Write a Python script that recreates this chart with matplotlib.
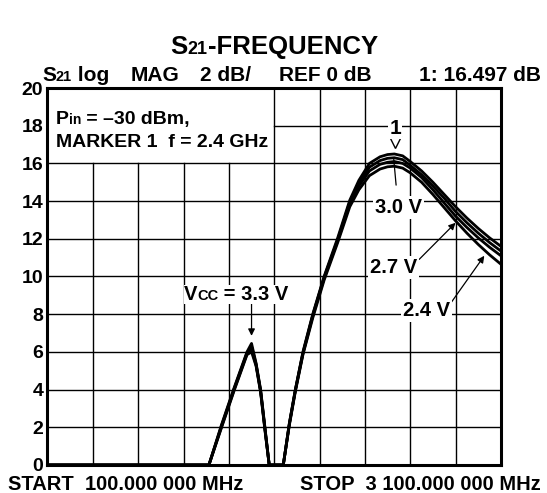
import matplotlib
matplotlib.use("Agg")
import matplotlib.pyplot as plt

plt.rcParams['font.family'] = ['Liberation Sans', 'DejaVu Sans']

# sweep, MHz (100 MHz start, 3100 MHz stop, 300 MHz/div)
f_start = 100
f_stop = 3100
freq = [100, 1168, 1250, 1335, 1420, 1450, 1480, 1510, 1540, 1567, 1660, 1700,
        1740, 1790, 1855, 1930, 2020, 2100, 2160, 2230, 2300, 2350, 2395, 2450,
        2500, 2575, 2650, 2725, 2800, 2875, 2950, 3025, 3100]

# S21 (dB) for each supply voltage
s21_33 = [0, 0, 2.1, 4.1, 6.0, 6.45, 5.4, 4.0, 1.9, 0, 0, 2.2,
          4.0, 6.0, 8.0, 10.0, 12.05, 14.05, 15.1, 16.0, 16.35, 16.47, 16.5, 16.4,
          16.1, 15.6, 15.0, 14.35, 13.7, 13.1, 12.55, 12.05, 11.6]
s21_30 = [0, 0, 2.05, 4.05, 5.95, 6.3, 5.35, 3.95, 1.85, 0, 0, 2.2,
          4.0, 5.95, 7.95, 9.95, 11.95, 13.95, 14.95, 15.8, 16.15, 16.27, 16.3, 16.2,
          15.9, 15.4, 14.8, 14.15, 13.45, 12.85, 12.3, 11.8, 11.35]
s21_27 = [0, 0, 2.0, 4.0, 5.9, 6.15, 5.3, 3.9, 1.8, 0, 0, 2.15,
          3.95, 5.9, 7.9, 9.9, 11.9, 13.85, 14.8, 15.6, 15.95, 16.06, 16.1, 16.0,
          15.75, 15.25, 14.6, 13.9, 13.2, 12.6, 12.05, 11.55, 11.1]
s21_24 = [0, 0, 1.95, 3.95, 5.85, 6.0, 5.25, 3.85, 1.75, 0, 0, 2.1,
          3.9, 5.85, 7.8, 9.8, 11.8, 13.7, 14.6, 15.35, 15.7, 15.82, 15.85, 15.75,
          15.5, 15.0, 14.35, 13.65, 12.95, 12.3, 11.7, 11.15, 10.65]

yticks = list(range(0, 21, 2))
marker_f = 2400
marker_db = 16.497

W, H = 547, 493
fig = plt.figure(figsize=(W / 100, H / 100), dpi=100)
ax = fig.add_axes([0.0868, 0.0568, 0.829, 0.7647])
ax.set_xlim(f_start, f_stop)
ax.set_ylim(0, 20)
ax.set_xticks([])
ax.set_yticks(yticks)
ax.set_yticklabels([str(v) for v in yticks], fontsize=14, fontweight='bold')
ax.tick_params(axis='y', length=0, pad=3)
for s in ax.spines.values():
    s.set_linewidth(2.2)

# graticule, left upper corner is kept clear for the settings box
div = (f_stop - f_start) / 10
for i in range(1, 10):
    x = f_start + i * div
    ax.plot([x, x], [0, 16 if i < 5 else 20], color='black', lw=1.0, zorder=1)
for y in range(2, 20, 2):
    x0 = f_start + 5 * div if y > 16 else f_start
    ax.plot([x0, f_stop], [y, y], color='black', lw=1.0, zorder=1)

for s21 in [s21_33, s21_30, s21_27, s21_24]:
    ax.plot(freq, s21, color='black', lw=2.0, solid_joinstyle='round', zorder=3,
            clip_on=False)

# marker 1
ax.plot([marker_f], [marker_db + 0.65], marker='v', ms=8, mfc='white',
        mec='black', mew=1.0, zorder=4)
ax.text(marker_f, 17.85, '1', ha='center', va='center', fontsize=15,
        fontweight='bold', bbox=dict(fc='white', ec='none', pad=1), zorder=5)

lab = dict(fontsize=14.5, fontweight='bold', ha='center', va='center', zorder=5,
           bbox=dict(fc='white', ec='none', pad=1.5))
arr = dict(arrowstyle='-|>', color='black', lw=0.9, mutation_scale=10,
           shrinkA=0, shrinkB=0)

ax.annotate('3.0 V', xy=(2390, 16.3), xytext=(2420, 13.65), arrowprops=dict(
    arrowstyle='-', color='black', lw=0.9, shrinkA=8, shrinkB=0), **lab)
ax.annotate('2.7 V', xy=(2800, 12.85), xytext=(2390, 10.5),
            arrowprops=dict(arr, relpos=(1.0, 0.8)), **lab)
ax.annotate('2.4 V', xy=(2990, 11.1), xytext=(2605, 8.2),
            arrowprops=dict(arr, relpos=(1.0, 0.8)), **lab)
ax.annotate('', xy=(1450, 6.85), xytext=(1450, 8.55), arrowprops=arr, zorder=4)

fig.canvas.draw()
rend = fig.canvas.get_renderer()


def chain(parts, x, y, ha='left', **kw):
    # write text pieces of different sizes one after another, pixel coords
    objs = []
    cx = x
    for txt, size in parts:
        t = fig.text(cx / W, 1 - y / H, txt, fontsize=size, fontweight='bold',
                     va='baseline', ha='left', **kw)
        cx += t.get_window_extent(renderer=rend).width
        objs.append(t)
    if ha == 'center':
        shift = (cx - x) / 2
        for t in objs:
            px, py = t.get_position()
            t.set_position((px - shift / W, py))
    return objs


def put(txt, x, y, size, ha='left'):
    return fig.text(x / W, 1 - y / H, txt, fontsize=size, fontweight='bold',
                    va='baseline', ha=ha)


# title
chain([('S', 18.5), ('21', 13), ('-FREQUENCY', 18.5)], 274, 54, ha='center')

# analyzer header
chain([('S', 15), ('21', 10.5), (' log', 15)], 42, 81)
put('MAG', 131, 81, 15)
put('2 dB/', 200, 81, 15)
put('REF 0 dB', 279, 81, 15)
put('1: 16.497 dB', 541, 81, 15, ha='right')

# settings box
chain([('P', 14), ('in', 10), (' = \u201330 dBm,', 14)], 56, 124)
put('MARKER 1  f = 2.4 GHz', 56, 147, 14)

# supply label over the low band peak
chain([('V', 14.5), ('CC', 10.5), (' = 3.3 V', 14.5)], 236, 300, ha='center',
      bbox=dict(fc='white', ec='none', pad=0))

# sweep limits
put('START  100.000 000 MHz', 8, 490, 14.5)
put('STOP  3 100.000 000 MHz', 541, 490, 14.5, ha='right')

fig.savefig('out.png', dpi=100)
